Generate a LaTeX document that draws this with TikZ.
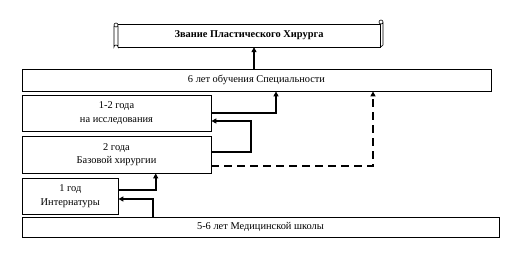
\documentclass[tikz,border=0pt]{standalone}
\usepackage{fontspec}
\setmainfont{Liberation Serif}
\usetikzlibrary{arrows.meta, positioning}

\begin{document}
\begin{tikzpicture}[x=1pt, y=-1pt, font=\fontsize{10.4}{13.5}\selectfont,
	stagebox/.style={draw, line width=0.8pt, inner sep=0pt, align=center},
	stagearrow/.style={line width=1.8pt, -{Triangle[length=5pt, width=5pt]}}]
	\useasboundingbox (0,0) rectangle (518,253);
	% scroll with the title
	\draw[line width=0.6pt] (118,24) -- (380,24) -- (380,47) -- (118,47);
	\draw[line width=0.6pt] (114,26) -- (114,47) arc (180:360:2) -- (118,26);
	\draw[line width=0.6pt] (116,25) circle (2);
	\draw[line width=0.6pt] (381,22) circle (2) (383,22) -- (383,45) arc (0:180:1.5);
	\node[inner sep=0pt, minimum width=262pt, minimum height=23pt, font=\fontsize{10.4}{12.5}\selectfont\bfseries] (title) at (249,35.5) {Звание Пластического Хирурга};
	% stages
	\node[stagebox, minimum width=469pt, minimum height=22pt] (spec) at (256.5,80) {6 лет обучения Специальности};
	\node[stagebox, minimum width=189pt, minimum height=36.5pt] (res) at (116.5,113.3) {1-2 года\\на исследования};
	\node[stagebox, minimum width=189pt, minimum height=37pt] (base) at (116.5,154.5) {2 года\\Базовой хирургии};
	\node[stagebox, minimum width=95.5pt, minimum height=36pt] (intern) at (70.3,196) {1 год\\Интернатуры};
	\node[stagebox, minimum width=477pt, minimum height=20pt] (school) at (260.5,227) {5-6 лет Медицинской школы};
	% connectors
	\draw[stagearrow] ([xshift=-2.5pt]spec.north) -- ([xshift=-2.5pt]spec.north |- title.south);
	\draw[stagearrow] (res.east) -| ([xshift=19.5pt]spec.south);
	\draw[stagearrow] ([yshift=2.5pt]base.east) -- ++(39.7,0) |- ([yshift=-7.7pt]res.east);
	\draw[stagearrow, dashed, dash pattern=on 8pt off 5pt] ([yshift=-11.5pt]base.east) -| ([xshift=116.5pt]spec.south);
	\draw[stagearrow] ([yshift=6pt]intern.east) -| ([xshift=39.2pt]base.south);
	\draw[stagearrow] ([xshift=-107.8pt]school.north) |- ([yshift=-3pt]intern.east);
\end{tikzpicture}
\end{document}
